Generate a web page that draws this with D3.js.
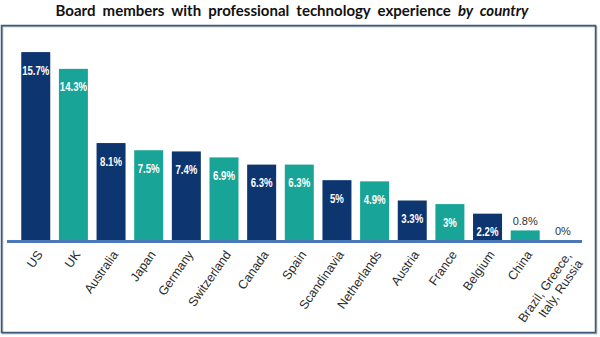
<!DOCTYPE html>
<html><head><meta charset="utf-8">
<script src="https://cdn.jsdelivr.net/npm/d3@7"></script>
<style>
html,body{margin:0;padding:0;background:#fff;}
svg{display:block;}
</style></head>
<body>
<svg id="chart" width="600" height="337"></svg>
<script>
const categories = ["US","UK","Australia","Japan","Germany","Switzerland","Canada","Spain","Scandinavia","Netherlands","Austria","France","Belgium","China","Brazil, Greece, Italy, Russia"];
const values = [15.7,14.3,8.1,7.5,7.4,6.9,6.3,6.3,5,4.9,3.3,3,2.2,0.8,0];
const valueLabels = ["15.7%","14.3%","8.1%","7.5%","7.4%","6.9%","6.3%","6.3%","5%","4.9%","3.3%","3%","2.2%","0.8%","0%"];
const categoryLines = [["US"],["UK"],["Australia"],["Japan"],["Germany"],["Switzerland"],["Canada"],["Spain"],["Scandinavia"],["Netherlands"],["Austria"],["France"],["Belgium"],["China"],["Brazil, Greece,","Italy, Russia"]];
const colors = ["#0d3570","#18a597"];

const svg = d3.select("#chart");

// frame
svg.append("rect").attr("x",2.5).attr("y",26.5).attr("width",594).attr("height",307)
  .attr("fill","none").attr("stroke","#9aa7b6").attr("stroke-width",1.5);
svg.append("rect").attr("x",1.5).attr("y",25.5).attr("width",594).attr("height",307)
  .attr("fill","none").attr("stroke","#3d5878").attr("stroke-width",1.5);

// title
const title = svg.append("text").attr("x",292).attr("y",16).attr("text-anchor","middle")
  .attr("font-family","Lato, 'Open Sans', sans-serif").attr("font-weight","bold")
  .attr("font-size","15px").attr("word-spacing","3.5px").attr("fill","#111");
title.append("tspan").text("Board members with professional technology experience ");
title.append("tspan").attr("font-style","italic").text("by country");

const x = d3.scaleBand().domain(categories).range([12.6,586]).paddingInner(0.23).paddingOuter(0.23);
const y = d3.scaleLinear().domain([0,16]).range([240,48.5]);

const data = categories.map((c,i)=>({c,v:values[i],lab:valueLabels[i],lines:categoryLines[i],i}));

svg.selectAll("rect.bar").data(data).enter().append("rect").attr("class","bar")
  .attr("x",d=>x(d.c)).attr("width",x.bandwidth())
  .attr("y",d=>y(d.v)).attr("height",d=>y(0)-y(d.v))
  .attr("fill",d=>colors[d.i%2]);

// value labels
svg.selectAll("text.val").data(data).enter().append("text").attr("class","val")
  .attr("transform",d=>{
    const cx = x(d.c)+x.bandwidth()/2;
    return d.v<1 ? `translate(${cx},${y(d.v)-5})` : `translate(${cx},${y(d.v)+22.5}) scale(0.8,1)`;
  })
  .attr("text-anchor","middle")
  .attr("font-family","'Liberation Sans', Arial, sans-serif")
  .attr("font-weight", d=> d.v<1 ? "normal" : "bold")
  .attr("font-size", d=> d.v<1 ? "11px" : "12px")
  .attr("fill", d=> d.v<1 ? "#333" : "#fff")
  .text(d=>d.lab);

// axis (ticks hidden) + thick baseline
const axisG = svg.append("g").attr("transform","translate(0,240)");
axisG.call(d3.axisBottom(x).tickSize(0).tickFormat(""));
axisG.select(".domain").remove();
svg.append("line").attr("x1",7).attr("x2",582).attr("y1",241.5).attr("y2",241.5)
  .attr("stroke","#4a78b8").attr("stroke-width",3);

// category labels
const lab = svg.selectAll("text.cat").data(data).enter().append("text").attr("class","cat")
  .attr("transform",d=>`translate(${x(d.c)+x.bandwidth()/2+4},${252}) rotate(-55)`)
  .attr("text-anchor","end")
  .attr("font-family","'Liberation Sans', Arial, sans-serif")
  .attr("font-size","12.5px").attr("fill","#2a2a2a");
lab.each(function(d){
  const t = d3.select(this);
  const n = d.lines.length;
  d.lines.forEach((ln,k)=>{
    t.append("tspan").attr("x",0).attr("dy", k===0 ? (n>1 ? "0.5em" : "0.35em") : "1.1em").text(ln);
  });
});
</script>
</body></html>
